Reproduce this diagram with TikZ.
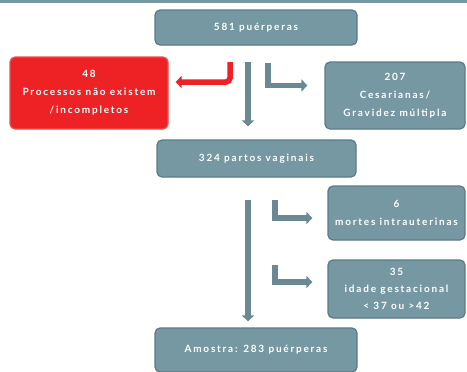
\documentclass[tikz,border=0pt]{standalone}
\usepackage{fontspec}
\newfontfamily\boxfont{Lato}[LetterSpace=18]
\usetikzlibrary{arrows.meta,positioning}
\definecolor{slate}{HTML}{7698A2}
\definecolor{slateedge}{HTML}{5B7A85}
\definecolor{alarm}{HTML}{EE2224}

\begin{document}
\begin{tikzpicture}[x=1pt, y=-1pt,
  stage/.style={draw=slateedge, line width=1.2pt, rounded corners=5pt, fill=slate,
                text=white, align=center, inner sep=0pt,
                font=\boxfont\bfseries\fontsize{10}{18}\selectfont},
  lost/.style={stage, draw=alarm!80, fill=alarm},
  flow/.style={-{Triangle[length=6pt, width=12pt]}, line width=5.5pt, slate!90!black},
  redflow/.style={flow, alarm, rounded corners=4pt}
]
\useasboundingbox (0,0) rectangle (467,372);
\fill[slate] (0,0) rectangle (467,3);

\node[stage, minimum width=202pt, minimum height=35pt] (total) at (256,27.5) {581 puérperas};
\node[lost, minimum width=158pt, minimum height=72pt] (missing) at (89,93) {48\\Processos não existem\\/incompletos};
\node[stage, minimum width=140pt, minimum height=67pt] (cesar) at (395,95.5) {207\\Cesarianas/\\Gravidez múltipla};
\node[stage, minimum width=199pt, minimum height=37pt] (vaginal) at (256.5,158.5) {324 partos vaginais};
\node[stage, minimum width=137pt, minimum height=54pt] (fetal) at (396.5,213) {6\\mortes intrauterinas};
\node[stage, minimum width=137pt, minimum height=58pt, font=\boxfont\bfseries\fontsize{10}{17}\selectfont] (age) at (396.5,289) {35\\idade gestacional\\< 37 ou >42};
\node[stage, minimum width=202pt, minimum height=44pt] (sample) at (256,350) {Amostra: 283 puérperas};

% ramificações
\coordinate (redstart) at (230,62);
\coordinate (cesstart) at (268,63);
\coordinate (fetstart) at (275,200);
\coordinate (agestart) at (275,265);

\draw[flow, shorten <=16pt, shorten >=13pt] (total.south -| 248,0) -- (vaginal.north -| 248,0);
\draw[redflow] (redstart) |- ([xshift=7pt, yshift=11pt]missing.east);
\draw[flow] (cesstart) |- ([xshift=-17pt, yshift=10pt]cesar.west);
\draw[flow, shorten <=22pt, shorten >=6pt] (vaginal.south -| 248,0) -- (sample.north -| 248,0);
\draw[flow] (fetstart) |- ([xshift=-15pt, yshift=-5pt]fetal.west);
\draw[flow] (agestart) |- ([xshift=-15pt, yshift=7pt]age.west);
\end{tikzpicture}
\end{document}
